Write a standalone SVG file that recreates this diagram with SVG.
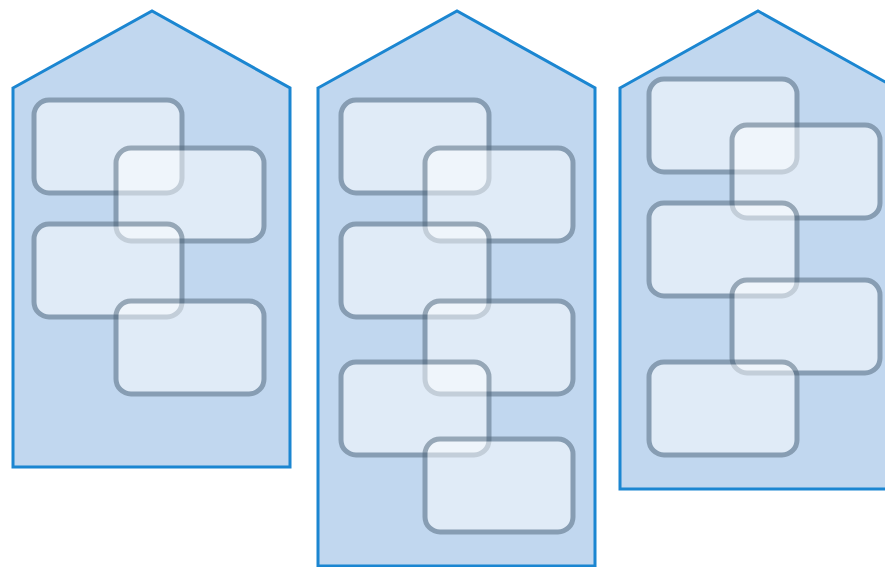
<svg xmlns="http://www.w3.org/2000/svg" width="885" height="567" viewBox="0 0 885 567">
  <style>
    .house { fill: #c1d7ef; stroke: #1b86d1; stroke-width: 3; stroke-linejoin: miter; }
    .box { fill: #ffffff; stroke: #4f6578; stroke-width: 5; opacity: 0.5; }
  </style>
  <defs>
    <rect id="box" class="box" width="148" height="93" rx="15" ry="15"/>
  </defs>
  <rect width="885" height="567" fill="#ffffff"/>

  <g id="house1">
    <polygon class="house" points="13,88 152,11 290,88 290,467 13,467"/>
    <use href="#box" x="34" y="100"/>
    <use href="#box" x="116" y="148"/>
    <use href="#box" x="34" y="224"/>
    <use href="#box" x="116" y="301"/>
  </g>

  <g id="house2">
    <polygon class="house" points="318,88 457,11 595,88 595,566 318,566"/>
    <use href="#box" x="341" y="100"/>
    <use href="#box" x="425" y="148"/>
    <use href="#box" x="341" y="224"/>
    <use href="#box" x="425" y="301"/>
    <use href="#box" x="341" y="362"/>
    <use href="#box" x="425" y="439"/>
  </g>

  <g id="house3">
    <polygon class="house" points="620,88 758,11 896,88 896,489 620,489"/>
    <use href="#box" x="649" y="79"/>
    <use href="#box" x="732" y="125"/>
    <use href="#box" x="649" y="203"/>
    <use href="#box" x="732" y="280"/>
    <use href="#box" x="649" y="362"/>
  </g>

  <g id="connectors"/>
</svg>
